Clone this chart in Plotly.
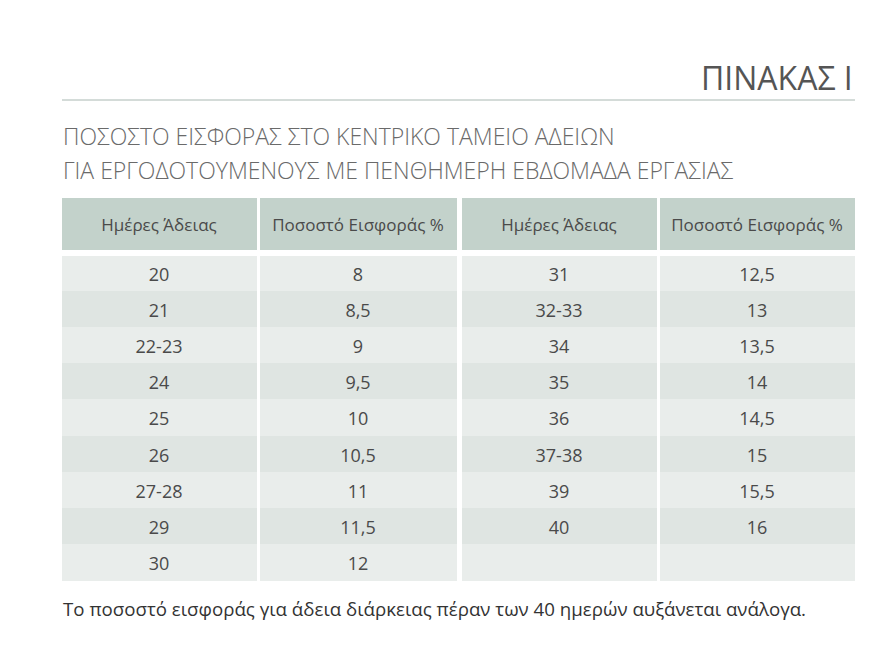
import plotly.graph_objects as go

# ---------------- data ----------------
left_days = ["20", "21", "22-23", "24", "25", "26", "27-28", "29", "30"]
left_rates = ["8", "8,5", "9", "9,5", "10", "10,5", "11", "11,5", "12"]
right_days = ["31", "32-33", "34", "35", "36", "37-38", "39", "40", ""]
right_rates = ["12,5", "13", "13,5", "14", "14,5", "15", "15,5", "16", ""]
header_days = "Ημέρες Άδειας"
header_rate = "Ποσοστό Εισφοράς %"
title_text = "ΠΙΝΑΚΑΣ Ι"
subtitle_lines = ["ΠΟΣΟΣΤΟ ΕΙΣΦΟΡΑΣ ΣΤΟ ΚΕΝΤΡΙΚΟ ΤΑΜΕΙΟ ΑΔΕΙΩΝ",
                  "ΓΙΑ ΕΡΓΟΔΟΤΟΥΜΕΝΟΥΣ ΜΕ ΠΕΝΘΗΜΕΡΗ ΕΒΔΟΜΑΔΑ ΕΡΓΑΣΙΑΣ"]
footnote = "Το ποσοστό εισφοράς για άδεια διάρκειας πέραν των 40 ημερών αυξάνεται ανάλογα."

# ---------------- style ----------------
OFF = 8                      # page body margin offset
W, H = 885 - OFF, 645 - OFF
HEADER_FILL = "#c3d2cb"
ROW_LIGHT = "#e9edeb"
ROW_DARK = "#dfe5e2"
TEXT = "#4a4a4a"
CLEAR = "rgba(0,0,0,0)"
FONT = "Open Sans"

def px(x):
    return (x - OFF) / W

def py(y):
    return 1 - (y - OFF) / H

def xd(a, b):
    return [px(a), px(b)]

def yd(top, bottom):
    return [py(bottom), py(top)]

col_x = [(62, 257), (260, 456), (462, 657), (660, 855)]
columns = [(header_days, left_days), (header_rate, left_rates),
           (header_days, right_days), (header_rate, right_rates)]

ROW_H = 36.2
fig = go.Figure()
for (x0, x1), (hdr, vals) in zip(col_x, columns):
    # header block
    fig.add_trace(go.Table(
        domain=dict(x=xd(x0, x1), y=yd(198, 253)),
        columnwidth=[1],
        header=dict(values=[""], height=12, fill=dict(color=HEADER_FILL),
                    line=dict(color=HEADER_FILL, width=1),
                    font=dict(size=4, color=HEADER_FILL)),
        cells=dict(values=[[hdr]], height=40, align="center",
                   fill=dict(color=HEADER_FILL),
                   line=dict(color=HEADER_FILL, width=1),
                   font=dict(family=FONT, size=17, color=TEXT)),
    ))
    fills = [ROW_LIGHT if i % 2 == 0 else ROW_DARK for i in range(len(vals))]
    # row fills
    fig.add_trace(go.Table(
        domain=dict(x=xd(x0, x1), y=yd(250, 590)),
        columnwidth=[1],
        header=dict(values=[""], height=5, fill=dict(color="white"),
                    line=dict(color="white", width=1),
                    font=dict(size=2, color="white")),
        cells=dict(values=[["" for _ in vals]], height=ROW_H, align="center",
                   fill=dict(color=[fills]),
                   line=dict(color=[fills], width=1),
                   font=dict(family=FONT, size=18, color=CLEAR)),
    ))
    # row texts (slightly lowered so they sit centred in the rows)
    fig.add_trace(go.Table(
        domain=dict(x=xd(x0, x1), y=yd(254, 594)),
        columnwidth=[1],
        header=dict(values=[""], height=5, fill=dict(color=CLEAR),
                    line=dict(color=CLEAR, width=1),
                    font=dict(size=2, color=CLEAR)),
        cells=dict(values=[vals], height=ROW_H, align="center",
                   fill=dict(color=CLEAR),
                   line=dict(color=CLEAR, width=1),
                   font=dict(family=FONT, size=18, color=TEXT)),
    ))

annotations = [
    dict(text=title_text, x=px(855), y=py(77), xanchor="right", yanchor="middle",
         font=dict(family=FONT, size=32, color="#555555")),
    dict(text=subtitle_lines[0], x=px(61), y=py(136), xanchor="left", yanchor="middle",
         font=dict(family=FONT, size=23, color="#6a6a6a", weight=300)),
    dict(text=subtitle_lines[1], x=px(61), y=py(170), xanchor="left", yanchor="middle",
         font=dict(family=FONT, size=23, color="#6a6a6a", weight=300)),
    dict(text=footnote, x=px(61), y=py(608), xanchor="left", yanchor="middle",
         font=dict(family=FONT, size=18.7, color="#333333")),
]
for a in annotations:
    a.update(xref="paper", yref="paper", showarrow=False)

fig.update_layout(
    width=W, height=H,
    margin=dict(l=0, r=0, t=0, b=0),
    paper_bgcolor="white", plot_bgcolor="white",
    annotations=annotations,
    shapes=[dict(type="line", xref="paper", yref="paper",
                 x0=px(62), x1=px(855), y0=py(100), y1=py(100),
                 line=dict(color="#a9b8b2", width=1))],
    showlegend=False,
)

fig.write_html("out.html")
